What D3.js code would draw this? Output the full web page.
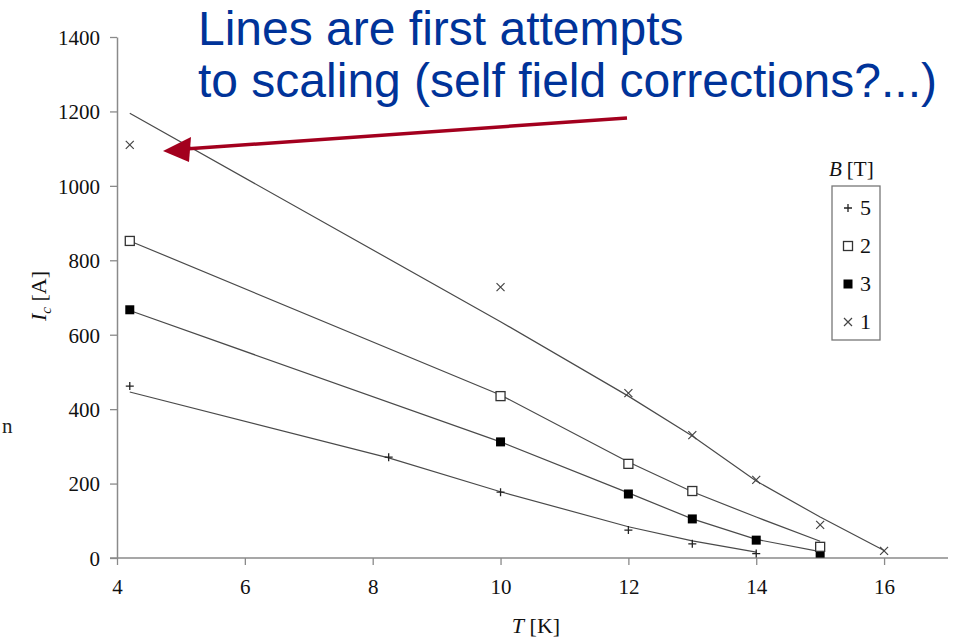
<!DOCTYPE html>
<html lang="en">
<head>
    <meta charset="UTF-8">
    <title>Ic vs T</title>
    <script src="https://cdn.jsdelivr.net/npm/d3@7"></script>
    <style>
        html, body { margin: 0; padding: 0; background: #fff; }
        svg { display: block; }
        .tick text { font-family: "Liberation Serif", "DejaVu Serif", serif !important; }
    </style>
</head>
<body>
<div id="chart"></div>
<script>
    const serif = "'Liberation Serif', 'DejaVu Serif', serif";

    // measured points, one array per field value
    const tB1 = [4.2, 10, 12, 13, 14, 15, 16];
    const icB1 = [1110, 728, 443, 330, 210, 89, 19];
    const tB2 = [4.2, 10, 12, 13, 15];
    const icB2 = [852, 435, 253, 180, 30];
    const tB3 = [4.2, 10, 12, 13, 14, 15];
    const icB3 = [667, 312, 172, 105, 48, 13];
    const tB5 = [4.2, 8.25, 10, 12, 13, 14];
    const icB5 = [462, 271, 177, 75, 38, 12];

    // scaling lines
    const lineT1 = [4.2, 10, 12, 13, 14, 15, 16];
    const lineI1 = [1195, 635, 435, 328, 207, 110, 20];
    const lineT2 = [4.2, 10, 12, 13, 14, 15];
    const lineI2 = [852, 438, 258, 178, 110, 45];
    const lineT3 = [4.2, 10, 12, 13, 14, 15];
    const lineI3 = [665, 312, 175, 105, 50, 17];
    const lineT5 = [4.2, 8.25, 10, 12, 13, 14];
    const lineI5 = [446, 269, 178, 84, 46, 16];

    const xTicks = [4, 6, 8, 10, 12, 14, 16];
    const yTicks = [0, 200, 400, 600, 800, 1000, 1200, 1400];
    const legendLabels = ["5", "2", "3", "1"];
    const legendShapes = ["plus", "open", "filled", "cross"];

    const width = 955, height = 637;
    const svg = d3.select("#chart").append("svg")
        .attr("width", width).attr("height", height);

    const x = d3.scaleLinear().domain([4, 17]).range([117, 948]);
    const y = d3.scaleLinear().domain([0, 1400]).range([558, 37]);

    const axisColor = "#8a8a8a";

    // axes
    const xAxis = svg.append("g")
        .attr("transform", "translate(0," + y(0) + ")")
        .call(d3.axisBottom(x).tickValues(xTicks).tickFormat(d3.format("d"))
            .tickSize(7).tickSizeOuter(0).tickPadding(10));
    const yAxis = svg.append("g")
        .attr("transform", "translate(" + x(4) + ",0)")
        .call(d3.axisLeft(y).tickValues(yTicks).tickFormat(d3.format("d"))
            .tickSize(7).tickSizeOuter(0).tickPadding(10));

    [xAxis, yAxis].forEach(a => {
        a.attr("font-family", serif).attr("font-size", 21);
        a.select(".domain").attr("stroke", axisColor).attr("stroke-width", 1.5);
        a.selectAll(".tick line").attr("stroke", axisColor).attr("stroke-width", 1.3);
        a.selectAll(".tick text")
            .style("font-size", "21px")
            .attr("fill", "#111");
    });
    xAxis.selectAll(".tick text").attr("dy", "0.9em");
    yAxis.selectAll(".tick text").attr("dy", "0.35em");

    // extend x axis line left to meet y tick
    xAxis.select(".domain").attr("d", "M" + (x(4) - 7) + ",0H" + x(17));

    // axis titles
    svg.append("text")
        .style("font-family", serif)
        .attr("transform", "translate(46,296) rotate(-90)")
        .attr("text-anchor", "middle")
        .style("font-size", "22px")
        .attr("fill", "#111")
        .html('<tspan font-style="italic">I</tspan><tspan font-style="italic" font-size="15px" dy="5">c</tspan><tspan dy="-5"> [A]</tspan>');

    svg.append("text")
        .style("font-family", serif)
        .attr("x", 536).attr("y", 633)
        .attr("text-anchor", "middle")
        .style("font-size", "22px")
        .attr("fill", "#111")
        .html('<tspan font-style="italic">T</tspan> [K]');

    svg.append("text")
        .style("font-family", serif)
        .attr("x", 2).attr("y", 433)
        .style("font-size", "21px")
        .attr("fill", "#222")
        .text("n");

    // lines
    const line = d3.line().x(d => x(d[0])).y(d => y(d[1]));
    const lineSets = [[lineT1, lineI1], [lineT2, lineI2], [lineT3, lineI3], [lineT5, lineI5]];
    lineSets.forEach(([ts, is]) => {
        svg.append("path")
            .datum(d3.zip(ts, is))
            .attr("d", line)
            .attr("fill", "none")
            .attr("stroke", "#4a4a4a")
            .attr("stroke-width", 1.2);
    });

    // markers
    function drawMarker(g, shape, cx, cy) {
        if (shape === "plus") {
            g.append("path")
                .attr("d", `M${cx - 4},${cy}H${cx + 4}M${cx},${cy - 4}V${cy + 4}`)
                .attr("stroke", "#222").attr("stroke-width", 1.3);
        } else if (shape === "cross") {
            g.append("path")
                .attr("d", `M${cx - 4},${cy - 4}L${cx + 4},${cy + 4}M${cx - 4},${cy + 4}L${cx + 4},${cy - 4}`)
                .attr("stroke", "#444").attr("stroke-width", 1.2);
        } else if (shape === "open") {
            g.append("rect")
                .attr("x", cx - 4.5).attr("y", cy - 4.5).attr("width", 9).attr("height", 9)
                .attr("fill", "#fff").attr("stroke", "#333").attr("stroke-width", 1.3);
        } else {
            g.append("rect")
                .attr("x", cx - 4.5).attr("y", cy - 4.5).attr("width", 9).attr("height", 9)
                .attr("fill", "#000");
        }
    }

    const markerSets = [
        [tB1, icB1, "cross"],
        [tB3, icB3, "filled"],
        [tB2, icB2, "open"],
        [tB5, icB5, "plus"]
    ];
    const mg = svg.append("g");
    markerSets.forEach(([ts, is, shape]) => {
        d3.zip(ts, is).forEach(d => drawMarker(mg, shape, x(d[0]), y(d[1])));
    });

    // legend
    const lg = svg.append("g");
    lg.append("text")
        .style("font-family", serif)
        .attr("x", 829).attr("y", 176)
        .style("font-size", "21px")
        .attr("fill", "#111")
        .html('<tspan font-style="italic">B</tspan><tspan dx="5">[T]</tspan>');
    lg.append("rect")
        .attr("x", 832).attr("y", 186).attr("width", 48).attr("height", 154)
        .attr("fill", "#fff").attr("stroke", "#777").attr("stroke-width", 1.3);
    const legendY = d3.scalePoint().domain(legendLabels).range([208, 322]);
    legendLabels.forEach((lab, i) => {
        const cy = legendY(lab);
        drawMarker(lg, legendShapes[i], 848, cy);
        lg.append("text")
            .style("font-family", serif)
            .attr("x", 860).attr("y", cy + 7)
            .style("font-size", "22px")
            .attr("fill", "#111")
            .text(lab);
    });

    // annotation
    const note = svg.append("g")
        .style("font-family", "'Liberation Sans', Arial, sans-serif")
        .style("font-size", "48px")
        .attr("fill", "#003399");
    note.append("text").attr("x", 198).attr("y", 45).text("Lines are first attempts");
    note.append("text").attr("x", 198).attr("y", 97).text("to scaling (self field corrections?...)");

    const red = "#a3001e";
    svg.append("line")
        .attr("x1", 627).attr("y1", 118).attr("x2", 185).attr("y2", 149)
        .attr("stroke", red).attr("stroke-width", 3.5);
    svg.append("path")
        .attr("d", "M163,151L191,137L189,162Z")
        .attr("fill", red);
</script>
</body>
</html>
